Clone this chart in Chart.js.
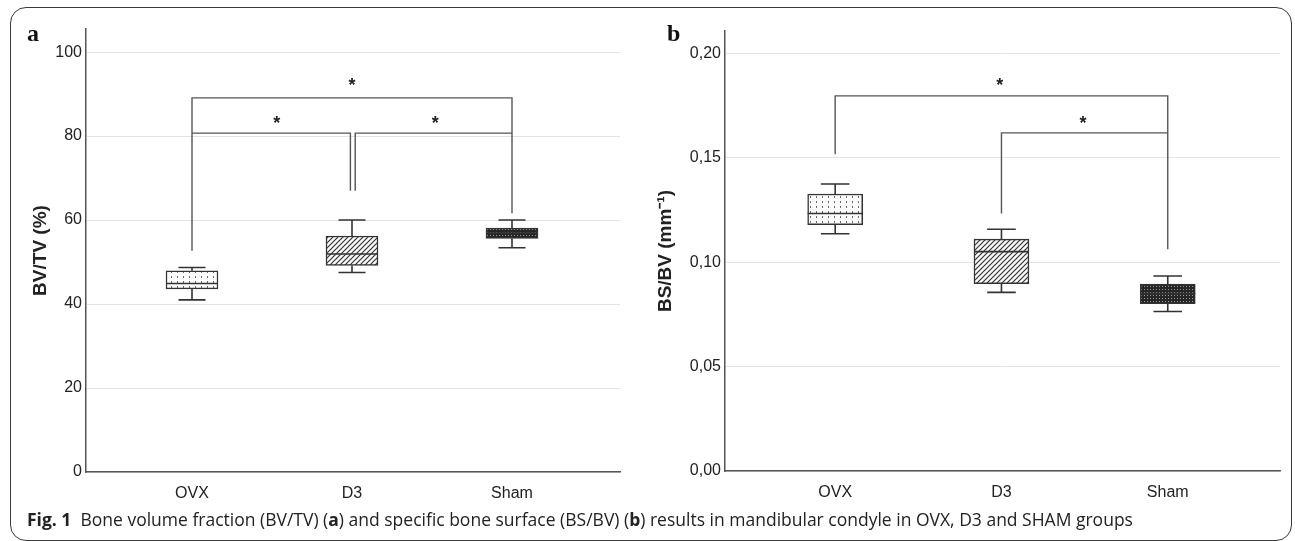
<!DOCTYPE html>
<html>
<head>
<meta charset="utf-8">
<script src="https://cdn.jsdelivr.net/npm/chart.js"></script>
<style>
  body { margin: 0; width: 1295px; height: 541px; overflow: hidden; position: relative; background: #fff; }
  #cornice { position: absolute; left: 10px; top: 7px; width: 1282px; height: 534px; box-sizing: border-box;
             border: 1.5px solid #3a3a3a; border-radius: 16px; }
  canvas { position: absolute; top: 0; }
  #graficoA { left: 0; }
  #graficoB { left: 645px; }
  .pannello { position: absolute; top: 21px; font: bold 24px/24px "Liberation Serif", serif; color: #111; }
  #didascalia { position: absolute; left: 27px; top: 509px; font: 17.5px/20px "Open Sans", sans-serif; color: #222; white-space: nowrap; }
</style>
</head>
<body>
<div id="cornice"></div>
<canvas id="graficoA" width="645" height="541"></canvas>
<canvas id="graficoB" width="650" height="541"></canvas>
<div class="pannello" style="left:27px">a</div>
<div class="pannello" style="left:667px">b</div>
<div id="didascalia"><b>Fig. 1</b>&nbsp; Bone volume fraction (BV/TV) (<b>a</b>) and specific bone surface (BS/BV) (<b>b</b>) results in mandibular condyle in OVX, D3 and SHAM groups</div>

<script>
// gruppi
var categorie = ["OVX", "D3", "Sham"];

// pannello a - BV/TV (%)
var bvtvMin = [41.0, 47.5, 53.4];
var bvtvQ1 = [43.6, 49.2, 55.6];
var bvtvMediana = [44.9, 51.9, 56.9];
var bvtvQ3 = [47.9, 56.2, 58.1];
var bvtvMax = [48.7, 60.0, 60.0];
var bvtvTicks = [0, 20, 40, 60, 80, 100];
// parentesi di significativita' (gruppo, valore)
var bvtvParentesi = [
  [[0, 52.7], [0, 89.1], [2, 89.1], [2, 61.6]],
  [[0, 80.7], [0.99, 80.7], [0.99, 67.0]],
  [[1.02, 67.0], [1.02, 80.7], [2, 80.7]]
];
var bvtvAsterischi = [[1.0, 92.6], [0.53, 83.5], [1.52, 83.5]];

// pannello b - BS/BV (mm-1)
var bsbvMin = [0.1137, 0.0856, 0.0764];
var bsbvQ1 = [0.1180, 0.0898, 0.0802];
var bsbvMediana = [0.1234, 0.1051, 0.0850];
var bsbvQ3 = [0.1327, 0.1111, 0.0895];
var bsbvMax = [0.1375, 0.1158, 0.0934];
var bsbvTicks = [0, 0.05, 0.10, 0.15, 0.20];
var bsbvParentesi = [
  [[0, 0.1517], [0, 0.1797], [2, 0.1797], [2, 0.1062]],
  [[1, 0.1234], [1, 0.1620], [2, 0.1620]]
];
var bsbvAsterischi = [[0.99, 0.1858], [1.49, 0.1675]];

// pattern dei box
function creaPattern(tipo) {
  var c = document.createElement("canvas");
  var g = c.getContext("2d");
  if (tipo == "punti") {
    c.width = 6; c.height = 5;
    g.fillStyle = "#fcfcfc"; g.fillRect(0, 0, 6, 5);
    g.fillStyle = "#6a6a6a"; g.fillRect(3, 1, 1, 2);
  } else if (tipo == "righe") {
    c.width = 5; c.height = 5;
    g.fillStyle = "#fafafa"; g.fillRect(0, 0, 5, 5);
    g.strokeStyle = "#333"; g.lineWidth = 1.2;
    g.beginPath();
    g.moveTo(-1, 6); g.lineTo(6, -1);
    g.moveTo(-1, 1); g.lineTo(1, -1);
    g.moveTo(4, 6); g.lineTo(6, 4);
    g.stroke();
  } else {
    c.width = 3; c.height = 3;
    g.fillStyle = "#262626"; g.fillRect(0, 0, 3, 3);
    g.fillStyle = "#9a9a9a"; g.fillRect(1, 1, 1, 1);
  }
  return g.createPattern(c, "repeat");
}
var riempimenti = [creaPattern("punti"), creaPattern("righe"), creaPattern("fitto")];

// baffi, mediane, parentesi e asterischi
var pluginBox = {
  id: "boxExtra",
  afterDatasetsDraw: function(chart, args, opts) {
    var ctx = chart.ctx;
    var sx = chart.scales.x, sy = chart.scales.y;
    var meta = chart.getDatasetMeta(0);
    ctx.save();
    ctx.strokeStyle = "#333";
    ctx.lineWidth = 1.6;
    for (var i = 0; i < opts.min.length; i++) {
      var cx = sx.getPixelForValue(i);
      var mezzo = meta.data[i].width / 2;
      var baffo = mezzo * 0.52;
      ctx.beginPath();
      ctx.moveTo(cx, sy.getPixelForValue(opts.q3[i]));
      ctx.lineTo(cx, sy.getPixelForValue(opts.max[i]));
      ctx.moveTo(cx - baffo, sy.getPixelForValue(opts.max[i]));
      ctx.lineTo(cx + baffo, sy.getPixelForValue(opts.max[i]));
      ctx.moveTo(cx, sy.getPixelForValue(opts.q1[i]));
      ctx.lineTo(cx, sy.getPixelForValue(opts.min[i]));
      ctx.moveTo(cx - baffo, sy.getPixelForValue(opts.min[i]));
      ctx.lineTo(cx + baffo, sy.getPixelForValue(opts.min[i]));
      ctx.moveTo(cx - mezzo, sy.getPixelForValue(opts.mediana[i]));
      ctx.lineTo(cx + mezzo, sy.getPixelForValue(opts.mediana[i]));
      ctx.stroke();
    }
    ctx.strokeStyle = "#555";
    ctx.lineWidth = 1.4;
    for (var p = 0; p < opts.parentesi.length; p++) {
      var linea = opts.parentesi[p];
      ctx.beginPath();
      for (var k = 0; k < linea.length; k++) {
        var px = sx.getPixelForValue(linea[k][0]);
        var py = sy.getPixelForValue(linea[k][1]);
        if (k == 0) ctx.moveTo(px, py); else ctx.lineTo(px, py);
      }
      ctx.stroke();
    }
    ctx.fillStyle = "#222";
    ctx.font = "bold 18px 'Liberation Sans'";
    ctx.textAlign = "center";
    ctx.textBaseline = "middle";
    for (var a = 0; a < opts.asterischi.length; a++) {
      ctx.fillText("*", sx.getPixelForValue(opts.asterischi[a][0]), sy.getPixelForValue(opts.asterischi[a][1]) + 3);
    }
    ctx.restore();
  }
};

function creaGrafico(idCanvas, conf) {
  var dati = [];
  for (var i = 0; i < categorie.length; i++) {
    dati.push({ x: i, y: [conf.q1[i], conf.q3[i]] });
  }
  return new Chart(document.getElementById(idCanvas), {
    type: "bar",
    data: {
      datasets: [{
        data: dati,
        backgroundColor: riempimenti,
        borderColor: "#333",
        borderWidth: 1.5,
        borderSkipped: false,
        barThickness: conf.spessore
      }]
    },
    options: {
      responsive: false,
      animation: false,
      events: [],
      layout: { padding: { top: conf.alto, right: conf.destra, left: 0, bottom: 0 } },
      plugins: {
        legend: { display: false },
        tooltip: { enabled: false },
        boxExtra: {
          min: conf.min, q1: conf.q1, mediana: conf.mediana, q3: conf.q3, max: conf.max,
          parentesi: conf.parentesi, asterischi: conf.asterischi
        }
      },
      scales: {
        x: {
          type: "linear",
          offset: false,
          min: -0.6625,
          max: 2.675,
          grid: { display: false, drawTicks: false, offset: false },
          border: { color: "#555", width: 1.5 },
          afterBuildTicks: function(scale) {
            scale.ticks = categorie.map(function(c, i) { return { value: i }; });
          },
          afterFit: function(scale) { scale.height = conf.sotto; },
          ticks: {
            padding: 12,
            color: "#222",
            font: { family: "Liberation Sans", size: 16 },
            callback: function(v) { return categorie[v]; }
          }
        },
        y: {
          min: 0,
          max: conf.massimo,
          grid: { color: "#e4e4e4", lineWidth: 1, drawTicks: false },
          border: { color: "#555", width: 1.5 },
          afterBuildTicks: function(scale) {
            scale.ticks = conf.ticks.map(function(v) { return { value: v }; });
          },
          afterFit: function(scale) { scale.width = conf.sinistra; },
          ticks: {
            padding: 4,
            color: "#222",
            font: { family: "Liberation Sans", size: 16 },
            callback: conf.formato
          },
          title: {
            display: true,
            text: conf.titolo,
            color: "#222",
            font: { family: "Liberation Sans", size: 19, weight: "bold" },
            padding: { top: conf.titoloX, bottom: 0 }
          }
        }
      }
    },
    plugins: [pluginBox]
  });
}

creaGrafico("graficoA", {
  min: bvtvMin, q1: bvtvQ1, mediana: bvtvMediana, q3: bvtvQ3, max: bvtvMax,
  parentesi: bvtvParentesi, asterischi: bvtvAsterischi, ticks: bvtvTicks,
  massimo: 105.5, titolo: "BV/TV (%)", titoloX: 29.6,
  sinistra: 86, destra: 25, alto: 29, sotto: 69, spessore: 52,
  formato: function(v) { return String(v); }
});

creaGrafico("graficoB", {
  min: bsbvMin, q1: bsbvQ1, mediana: bsbvMediana, q3: bsbvQ3, max: bsbvMax,
  parentesi: bsbvParentesi, asterischi: bsbvAsterischi, ticks: bsbvTicks,
  massimo: 0.2108, titolo: "BS/BV (mm\u207B\u00B9)", titoloX: 9.6,
  sinistra: 80, destra: 15, alto: 31, sotto: 70, spessore: 55,
  formato: function(v) { return v.toFixed(2).replace(".", ","); }
});
</script>
</body>
</html>
